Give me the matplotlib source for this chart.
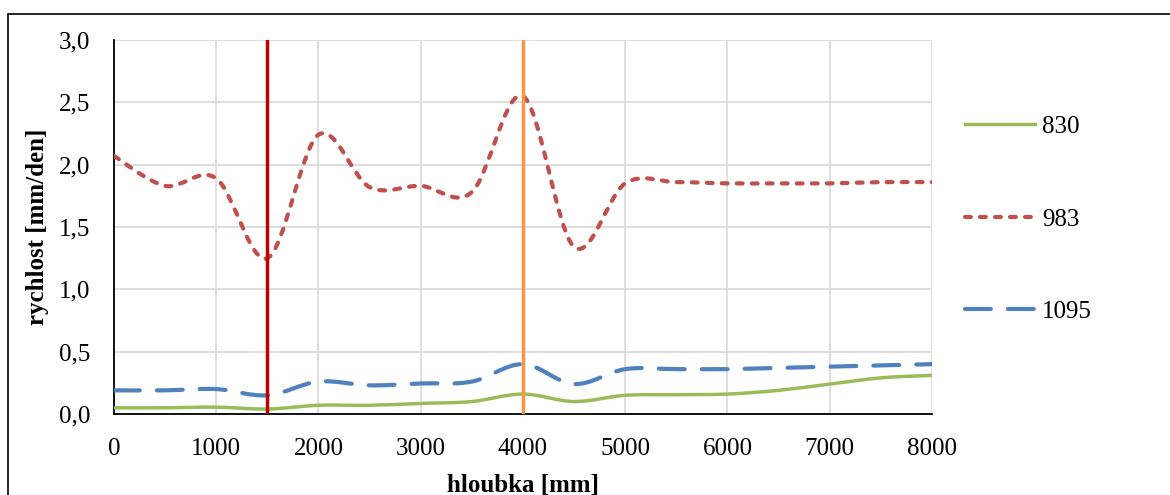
import matplotlib.pyplot as plt
from matplotlib.path import Path
from matplotlib.patches import PathPatch, Rectangle
from matplotlib.lines import Line2D
import numpy as np

plt.rcParams['font.family'] = ['Liberation Serif', 'DejaVu Serif']

# hloubka [mm]
depth = [0, 500, 1000, 1500, 2000, 2500, 3000, 3500, 4000, 4500,
         5000, 5500, 6000, 6500, 7000, 7500, 8000]

# rychlost [mm/den]
v830 = [0.05, 0.05, 0.055, 0.04, 0.07, 0.07, 0.085, 0.10, 0.16, 0.10,
        0.15, 0.155, 0.16, 0.19, 0.24, 0.29, 0.31]
v983 = [2.07, 1.83, 1.89, 1.25, 2.24, 1.82, 1.83, 1.78, 2.55, 1.34,
        1.85, 1.86, 1.85, 1.85, 1.85, 1.86, 1.86]
v1095 = [0.19, 0.19, 0.20, 0.15, 0.26, 0.23, 0.245, 0.26, 0.40, 0.24,
         0.36, 0.36, 0.36, 0.37, 0.38, 0.39, 0.40]

marks = [1500, 4000]
mark_colors = ['#C00000', '#F79646']

# name, values, colour, width, dash style
series = [
    ('830', v830, '#9BBB59', 2.5, '-'),
    ('983', v983, '#C0504D', 3.0, (0, (1.4, 2.2))),
    ('1095', v1095, '#4F81BD', 3.0, (0, (6.2, 4.1))),
]

FS = 18


def smooth_path(x, y):
    # Excel-like smoothed line: Catmull-Rom segments as cubic Bezier
    pts = np.column_stack([x, y]).astype(float)
    n = len(pts)
    verts = [pts[0]]
    codes = [Path.MOVETO]
    for i in range(n - 1):
        p0 = pts[i - 1] if i > 0 else pts[i]
        p1 = pts[i]
        p2 = pts[i + 1]
        p3 = pts[i + 2] if i + 2 < n else pts[i + 1]
        verts += [p1 + (p2 - p0) / 6, p2 - (p3 - p1) / 6, p2]
        codes += [Path.CURVE4] * 3
    return Path(verts, codes)


fig = plt.figure(figsize=(11.7, 4.95), dpi=100)
ax = fig.add_axes([0.0974, 0.1636, 0.6991, 0.7556])

handles = []
for name, vals, color, lw, ls in series:
    patch = PathPatch(smooth_path(depth, vals), fill=False, edgecolor=color,
                      linewidth=lw, linestyle=ls, capstyle='round',
                      joinstyle='round', zorder=3)
    ax.add_patch(patch)
    handles.append(Line2D([], [], color=color, linewidth=lw, linestyle=ls,
                          dash_capstyle='round', label=name))

for m, c in zip(marks, mark_colors):
    ax.axvline(m, color=c, linewidth=2.5, zorder=4)

ax.set_xlim(0, 8000)
ax.set_ylim(0, 3.0)
ax.set_xticks(range(0, 8001, 1000))
ax.set_yticks(np.arange(0, 3.01, 0.5))
ax.set_yticklabels([f'{t:.1f}'.replace('.', ',') for t in np.arange(0, 3.01, 0.5)])
ax.tick_params(length=0, labelsize=FS)
ax.tick_params(axis='y', pad=17)
ax.tick_params(axis='x', pad=17.5)
ax.grid(True, color='#D9D9D9', linewidth=1.2)
ax.set_axisbelow(True)
for s in ['top', 'right']:
    ax.spines[s].set_visible(False)
for s in ['left', 'bottom']:
    ax.spines[s].set_linewidth(1.3)

ax.set_xlabel('hloubka [mm]', fontsize=FS, fontweight='bold', labelpad=10)
ax.set_ylabel('rychlost [mm/den]', fontsize=FS, fontweight='bold', labelpad=7)

fig.legend(handles=handles, loc='center left', bbox_to_anchor=(0.825, 0.557),
           frameon=False, fontsize=FS, handlelength=2.8, handletextpad=0.28,
           labelspacing=2.8, borderpad=0, borderaxespad=0)

fig.patches.append(Rectangle((0.0068, -0.2), 1.2, 0.9717 + 0.2, fill=False,
                             edgecolor='black', linewidth=1.2,
                             transform=fig.transFigure, figure=fig))

fig.savefig('out.png', dpi=100)
